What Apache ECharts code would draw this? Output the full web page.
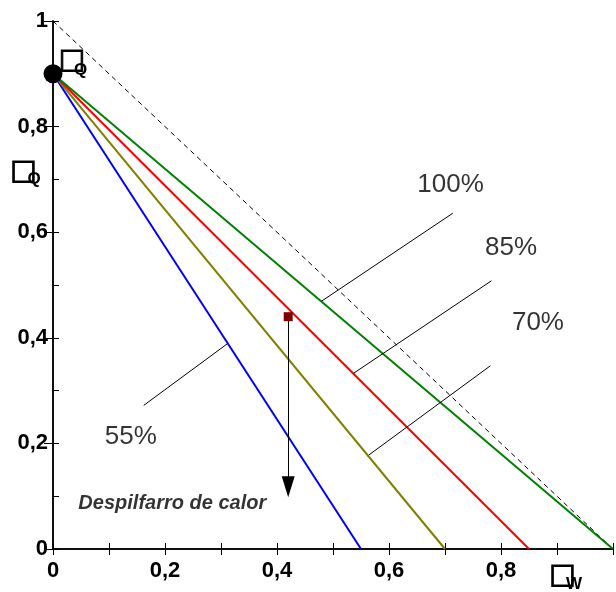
<!DOCTYPE html>
<html>
<head>
<meta charset="utf-8">
<script src="https://cdn.jsdelivr.net/npm/echarts@6/dist/echarts.min.js"></script>
<style>
html,body{margin:0;padding:0;background:#fff;}
#chart{width:616px;height:592px;}
</style>
</head>
<body>
<div id="chart"></div>
<script>
// ---- data ----
var startPoint = [0, 0.9];
var efficiencyNames = ['55%', '70%', '85%', '100%'];
var efficiencyEnds = [0.55, 0.70, 0.85, 1.00];   // x where each line reaches 0
var diagonal = [[0, 1], [1, 0]];
var wastePoint = [0.42, 0.44];
var wasteArrowEnd = [0.42, 0.118];
// annotation leader lines [from, to]
var leader55 = [[0.313, 0.390], [0.162, 0.272]];
var leader70 = [[0.564, 0.178], [0.781, 0.347]];
var leader85 = [[0.537, 0.333], [0.783, 0.508]];
var leader100 = [[0.479, 0.469], [0.714, 0.636]];
// annotation labels [x, y, text]
var percentLabels = [[0.139, 0.212, '55%'], [0.866, 0.428, '70%'], [0.818, 0.570, '85%'], [0.710, 0.689, '100%']];
var wasteLabel = [[0.213, 0.087, 'Despilfarro de calor']];
var xTicks = [0, 0.2, 0.4, 0.6, 0.8];
var yTicks = [0, 0.2, 0.4, 0.6, 0.8, 1];

var colors = ['#0000ff', '#808000', '#ff0000', '#008000'];

function fmt(v) {
  if (Math.abs(v) < 1e-9) return '0';
  if (Math.abs(v - 1) < 1e-9) return '1';
  return v.toFixed(1).replace('.', ',');
}
function onTicks(list) {
  return function (v) {
    for (var i = 0; i < list.length; i++) if (Math.abs(list[i] - v) < 1e-9) return fmt(v);
    return '';
  };
}

var chart = echarts.init(document.getElementById('chart'), null, {renderer: 'canvas'});

function ax(extra) {
  return Object.assign({
    type: 'value', min: 0, max: 1, interval: 0.1,
    axisLine: {show: true, lineStyle: {color: '#000', width: 1.5}},
    splitLine: {show: false},
    minorTick: {show: false},
    axisTick: {show: true, inside: true, length: 6, lineStyle: {color: '#000', width: 1}}
  }, extra);
}
var labelStyle = {color: '#000', fontSize: 22, fontWeight: 'bold', fontFamily: 'Liberation Sans'};

var series = [];
series.push({
  type: 'line', data: diagonal, symbol: 'none', silent: true,
  lineStyle: {color: '#000', width: 1, type: [5, 4]}, z: 1
});
efficiencyEnds.forEach(function (xe, i) {
  series.push({
    type: 'line', name: efficiencyNames[i], data: [startPoint, [xe, 0]], symbol: 'none', silent: true,
    lineStyle: {color: colors[i], width: 2}, z: 2
  });
});
[leader55, leader70, leader85, leader100].forEach(function (d) {
  series.push({type: 'line', data: d, symbol: 'none', silent: true, lineStyle: {color: '#000', width: 1}, z: 3});
});
series.push({
  type: 'scatter', data: [wastePoint], symbol: 'rect', symbolSize: 9, silent: true,
  itemStyle: {color: '#800000', opacity: 1}, z: 5,
  markLine: {
    silent: true, animation: false,
    symbol: ['none', 'triangle'], symbolSize: [13, 21],
    lineStyle: {color: '#000', width: 1, type: 'solid'},
    label: {show: false},
    data: [[{coord: wastePoint}, {coord: wasteArrowEnd}]]
  }
});
series.push({
  type: 'scatter', data: [startPoint], symbol: 'circle', symbolSize: 19, silent: true,
  itemStyle: {color: '#000', opacity: 1}, z: 6
});
series.push({
  type: 'scatter', data: percentLabels, symbolSize: 0, silent: true,
  label: {show: true, position: 'inside', formatter: function (p) { return p.data[2]; },
    color: '#000', fontSize: 26, fontFamily: 'Liberation Sans'}
});
series.push({
  type: 'scatter', data: wasteLabel, symbolSize: 0, silent: true,
  label: {show: true, position: 'inside', formatter: function (p) { return p.data[2]; },
    color: '#000', fontSize: 20, fontWeight: 'bold', fontStyle: 'italic', fontFamily: 'Liberation Sans'}
});

function sym(txt, x, y, size, weight) {
  var isBox = txt === '□';
  return {type: 'text', x: x, y: y, z: 100, silent: true,
    style: {text: txt, fontSize: size, fontFamily: isBox ? 'DejaVu Sans' : 'Liberation Sans',
      fontWeight: weight || 'normal', fill: '#000', stroke: isBox ? '#000' : null, lineWidth: isBox ? 1 : 0,
      align: 'center', verticalAlign: 'middle'}};
}

chart.setOption({
  animation: false,
  backgroundColor: '#fff',
  grid: {left: 53, top: 21, width: 567, height: 528, containLabel: false},
  xAxis: [
    ax({position: 'bottom', axisLabel: Object.assign({show: true, margin: 11, interval: 0, formatter: onTicks(xTicks)}, labelStyle)}),
    ax({position: 'top', axisLabel: {show: false}})
  ],
  yAxis: [
    ax({position: 'left', axisLabel: Object.assign({show: true, margin: 5, interval: 0, formatter: onTicks(yTicks)}, labelStyle)}),
    ax({position: 'right', interval: 0.2, axisLabel: {show: false}, axisTick: {show: true, inside: true, length: 9, lineStyle: {color: '#000', width: 1}}})
  ],
  series: series,
  graphic: [
    sym('□', 72, 61, 28, 'bold'), sym('Q', 80.5, 70, 17, 'bold'),
    sym('□', 23.5, 172, 28, 'bold'), sym('Q', 34, 179, 17, 'bold'),
    sym('□', 562.5, 576, 28, 'bold'), sym('W', 574, 584, 17, 'bold')
  ]
});
</script>
</body>
</html>
